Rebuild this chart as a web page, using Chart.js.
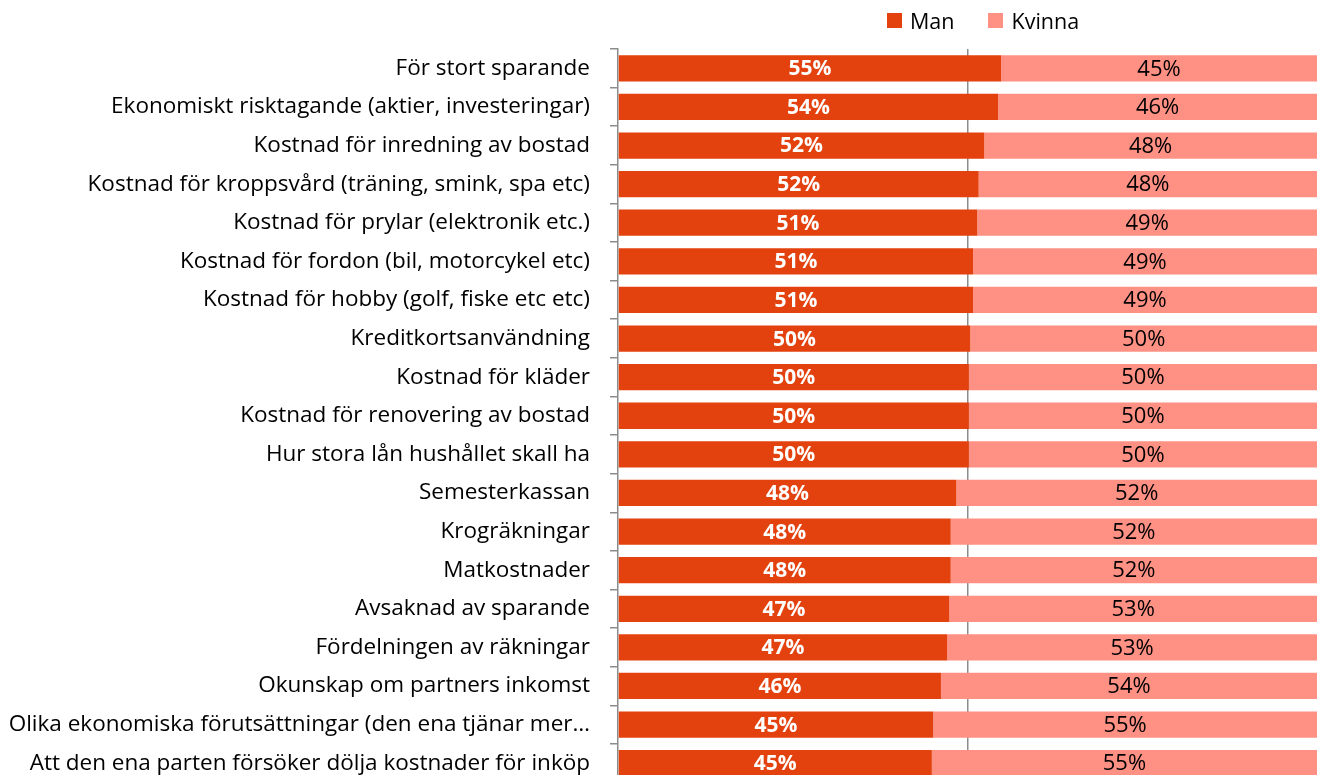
<!DOCTYPE html>
<html>
<head>
<meta charset="utf-8">
<script src="https://cdn.jsdelivr.net/npm/chart.js@4"></script>
<style>
  html, body { margin: 0; padding: 0; background: #fff; overflow: hidden; }
  #wrap { position: relative; width: 1317px; height: 775px; overflow: hidden; }
  #legend { position: absolute; left: 887px; top: 6px; font-family: "Open Sans", sans-serif; font-size: 21.5px; color: #000; display: flex; align-items: center; }
  #legend span.box { display: inline-block; width: 15px; height: 15px; margin-right: 8px; }
  #legend span.item { display: inline-flex; align-items: center; margin-right: 34px; }
  canvas { position: absolute; left: 0; top: 0; }
</style>
</head>
<body>
<div id="wrap">
  <canvas id="grafico" width="1317" height="816"></canvas>
  <div id="legend">
    <span class="item"><span class="box" style="background:#E3420E"></span>Man</span>
    <span class="item"><span class="box" style="background:#FF9084"></span>Kvinna</span>
  </div>
</div>
<script>
const categories = [
    "För stort sparande",
    "Ekonomiskt risktagande (aktier, investeringar)",
    "Kostnad för inredning av bostad",
    "Kostnad för kroppsvård (träning, smink, spa etc)",
    "Kostnad för prylar (elektronik etc.)",
    "Kostnad för fordon (bil, motorcykel etc)",
    "Kostnad för hobby (golf, fiske etc etc)",
    "Kreditkortsanvändning",
    "Kostnad för kläder",
    "Kostnad för renovering av bostad",
    "Hur stora lån hushållet skall ha",
    "Semesterkassan",
    "Krogräkningar",
    "Matkostnader",
    "Avsaknad av sparande",
    "Fördelningen av räkningar",
    "Okunskap om partners inkomst",
    "Olika ekonomiska förutsättningar (den ena tjänar mer…",
    "Att den ena parten försöker dölja kostnader för inköp"
];

const manValues = [54.8, 54.4, 52.4, 51.6, 51.4, 50.8, 50.8, 50.4, 50.2, 50.2, 50.2, 48.4, 47.6, 47.6, 47.4, 47.1, 46.2, 45.1, 44.9];
const kvinnaValues = [45.2, 45.6, 47.6, 48.4, 48.6, 49.2, 49.2, 49.6, 49.8, 49.8, 49.8, 51.6, 52.4, 52.4, 52.6, 52.9, 53.8, 54.9, 55.1];

const manLabels = ["55%", "54%", "52%", "52%", "51%", "51%", "51%", "50%", "50%", "50%", "50%", "48%", "48%", "48%", "47%", "47%", "46%", "45%", "45%"];
const kvinnaLabels = ["45%", "46%", "48%", "48%", "49%", "49%", "49%", "50%", "50%", "50%", "50%", "52%", "52%", "52%", "53%", "53%", "54%", "55%", "55%"];

const fontFamily = '"Open Sans", sans-serif';

// ritar procentetiketterna mitt i varje stapel
const barLabels = {
    id: "barLabels",
    afterDatasetsDraw(chart) {
        const ctx = chart.ctx;
        const texts = [manLabels, kvinnaLabels];
        ctx.save();
        ctx.textAlign = "center";
        ctx.textBaseline = "middle";
        chart.data.datasets.forEach(function (ds, i) {
            const meta = chart.getDatasetMeta(i);
            meta.data.forEach(function (bar, j) {
                const cx = (bar.x + bar.base) / 2;
                if (i === 0) {
                    ctx.font = "bold 21px " + fontFamily;
                    ctx.fillStyle = "#FFFFFF";
                } else {
                    ctx.font = "22px " + fontFamily;
                    ctx.fillStyle = "#000000";
                }
                ctx.fillText(texts[i][j], cx, bar.y + 1);
            });
        });
        ctx.restore();
    }
};

const ctx = document.getElementById("grafico").getContext("2d");

new Chart(ctx, {
    type: "bar",
    data: {
        labels: categories,
        datasets: [
            {
                label: "Man",
                data: manValues,
                backgroundColor: "#E3420E",
                barPercentage: 0.68,
                categoryPercentage: 1.0
            },
            {
                label: "Kvinna",
                data: kvinnaValues,
                backgroundColor: "#FF9084",
                barPercentage: 0.68,
                categoryPercentage: 1.0
            }
        ]
    },
    options: {
        indexAxis: "y",
        responsive: false,
        animation: false,
        layout: {
            padding: { top: 49, right: 0, bottom: 0, left: 0 }
        },
        scales: {
            x: {
                stacked: true,
                min: 0,
                max: 100,
                afterFit: function (scale) {
                    scale.height = 0;
                },
                ticks: { display: false, stepSize: 50 },
                border: { display: false },
                grid: {
                    drawTicks: false,
                    lineWidth: 1.5,
                    color: function (c) {
                        return c.tick && c.tick.value === 50 ? "#8C8C8C" : "rgba(0,0,0,0)";
                    }
                }
            },
            y: {
                stacked: true,
                afterFit: function (scale) {
                    scale.width = 618;
                },
                border: { display: true, color: "#8C8C8C", width: 1.5 },
                grid: {
                    drawOnChartArea: false,
                    drawTicks: true,
                    tickLength: 8,
                    color: "#8C8C8C",
                    lineWidth: 1.5
                },
                ticks: {
                    autoSkip: false,
                    padding: 20,
                    color: "#000000",
                    font: { family: fontFamily, size: 22.5 }
                }
            }
        },
        plugins: {
            legend: { display: false },
            tooltip: { enabled: false }
        }
    },
    plugins: [barLabels]
});
</script>
</body>
</html>
